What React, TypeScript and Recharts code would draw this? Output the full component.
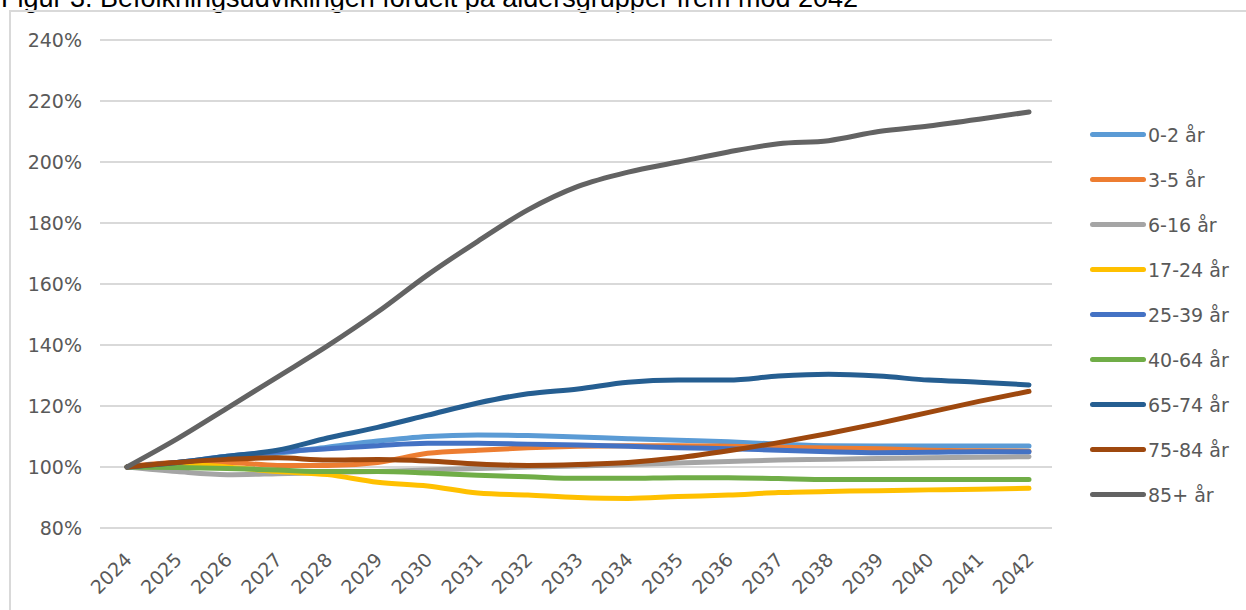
import React from 'react';
import { LineChart, Line, XAxis, YAxis, CartesianGrid, Legend } from 'recharts';

const YEARS = [
  '2024', '2025', '2026', '2027', '2028', '2029', '2030', '2031', '2032', '2033',
  '2034', '2035', '2036', '2037', '2038', '2039', '2040', '2041', '2042',
];

// index, 2024 = 100 %
const AGE_0_2 = [100, 101.5, 103, 104.5, 106.5, 108.5, 110, 110.5, 110.3, 109.8, 109.3, 108.8, 108.3, 107.5, 107, 106.9, 106.9, 106.9, 106.9];
const AGE_3_5 = [100, 101.5, 101.5, 100.5, 100.5, 101.5, 104.5, 105.5, 106.3, 106.8, 107, 107, 106.8, 106.5, 106.2, 106, 105.5, 105.3, 105.2];
const AGE_6_16 = [100, 98.5, 97.5, 97.8, 98.2, 98.5, 99, 99.5, 100, 100.3, 100.8, 101.3, 101.8, 102.3, 102.5, 102.8, 103, 103.2, 103.4];
const AGE_17_24 = [100, 101, 100, 98.5, 97.5, 95, 93.8, 91.5, 90.8, 90, 89.7, 90.3, 90.8, 91.6, 92, 92.2, 92.5, 92.7, 93];
const AGE_25_39 = [100, 101.5, 103.5, 105, 106, 107, 107.8, 107.8, 107.5, 107.2, 106.8, 106.3, 106, 105.5, 105, 104.7, 104.8, 105, 105];
const AGE_40_64 = [100, 99.8, 99.5, 99, 98.5, 98.5, 98, 97.3, 96.8, 96.3, 96.3, 96.5, 96.5, 96.2, 95.9, 95.9, 95.9, 95.9, 95.9];
const AGE_65_74 = [100, 101.5, 103.5, 105.5, 109.5, 113, 117, 121, 124, 125.6, 127.8, 128.5, 128.5, 129.8, 130.4, 129.8, 128.5, 127.8, 126.9];
const AGE_75_84 = [100, 101.5, 102.5, 103, 102.3, 102.5, 102, 101, 100.5, 100.8, 101.5, 103, 105.3, 108, 111, 114.3, 117.9, 121.5, 124.8];
const AGE_85 = [100, 109.2, 119.3, 129.5, 139.7, 150.8, 163, 174, 184.3, 192, 196.7, 200, 203.3, 206, 207, 210, 211.8, 214, 216.4];

const Y_TICKS = [80, 100, 120, 140, 160, 180, 200, 220, 240];

const SERIES = [
  { key: 'a0', name: '0-2 år', color: '#5B9BD5', values: AGE_0_2 },
  { key: 'a3', name: '3-5 år', color: '#ED7D31', values: AGE_3_5 },
  { key: 'a6', name: '6-16 år', color: '#A5A5A5', values: AGE_6_16 },
  { key: 'a17', name: '17-24 år', color: '#FFC000', values: AGE_17_24 },
  { key: 'a25', name: '25-39 år', color: '#4472C4', values: AGE_25_39 },
  { key: 'a40', name: '40-64 år', color: '#70AD47', values: AGE_40_64 },
  { key: 'a65', name: '65-74 år', color: '#255E91', values: AGE_65_74 },
  { key: 'a75', name: '75-84 år', color: '#9E480E', values: AGE_75_84 },
  { key: 'a85', name: '85+ år', color: '#636363', values: AGE_85 },
];

const data = YEARS.map((year, i) => {
  const row: Record<string, string | number> = { year };
  SERIES.forEach((s) => {
    row[s.key] = s.values[i];
  });
  return row;
});

const FONT = '"DejaVu Sans", Verdana, sans-serif';
const TEXT = '#595959';

const YearTick = (props: any) => {
  const { x, y, payload } = props;
  return (
    <g transform={`translate(${x + 6},${y + 33})`}>
      <text
        textAnchor="end"
        transform="rotate(-45)"
        fill={TEXT}
        fontSize={19}
        fontFamily={FONT}
      >
        {payload.value}
      </text>
    </g>
  );
};

const LegendBox = () => (
  <div style={{ fontFamily: FONT, fontSize: 19, color: TEXT }}>
    {SERIES.map((s) => (
      <div key={s.key} style={{ height: 45, display: 'flex', alignItems: 'center' }}>
        <div
          style={{
            width: 56,
            height: 5,
            borderRadius: 3,
            background: s.color,
            marginRight: 2,
          }}
        />
        <span>{s.name}</span>
      </div>
    ))}
  </div>
);

export default function App() {
  return (
    <div
      style={{
        position: 'absolute',
        left: 0,
        top: 0,
        width: 1246,
        height: 610,
        overflow: 'hidden',
        background: '#fff',
      }}
    >
      <div
        style={{
          position: 'absolute',
          left: 1,
          top: -15,
          fontFamily: '"Liberation Sans", Arial, sans-serif',
          fontSize: 27,
          lineHeight: 1,
          color: '#000',
          whiteSpace: 'nowrap',
        }}
      >
        Figur 3. Befolkningsudviklingen fordelt på aldersgrupper frem mod 2042
      </div>
      <div
        style={{
          position: 'absolute',
          left: 9,
          top: 10,
          width: 1250,
          height: 620,
          border: '2px solid #d9d9d9',
          boxSizing: 'border-box',
        }}
      />
      <div style={{ position: 'absolute', left: 0, top: 0 }}>
        <LineChart
          width={1246}
          height={610}
          data={data}
          margin={{ top: 40, right: 194, bottom: 0, left: 0 }}
        >
          <CartesianGrid vertical={false} stroke="#d9d9d9" strokeWidth={2} />
          <XAxis
            dataKey="year"
            axisLine={false}
            tickLine={false}
            tickSize={0}
            tickMargin={0}
            interval={0}
            padding={{ left: 27, right: 23 }}
            tick={<YearTick />}
            height={82}
          />
          <YAxis
            domain={[80, 240]}
            ticks={Y_TICKS}
            width={100}
            axisLine={false}
            tickLine={false}
            tickSize={0}
            tickMargin={18}
            tickFormatter={(v) => `${v}%`}
            tick={{ fill: TEXT, fontSize: 19, fontFamily: FONT }}
          />
          {SERIES.map((s) => (
            <Line
              key={s.key}
              type="monotone"
              dataKey={s.key}
              name={s.name}
              stroke={s.color}
              strokeWidth={5}
              strokeLinecap="round"
              dot={false}
              isAnimationActive={false}
            />
          ))}
          <Legend
            layout="vertical"
            align="center"
            verticalAlign="middle"
            content={<LegendBox />}
            wrapperStyle={{ left: 1090, top: 112, width: 150, height: 410 }}
          />
        </LineChart>
      </div>
    </div>
  );
}
